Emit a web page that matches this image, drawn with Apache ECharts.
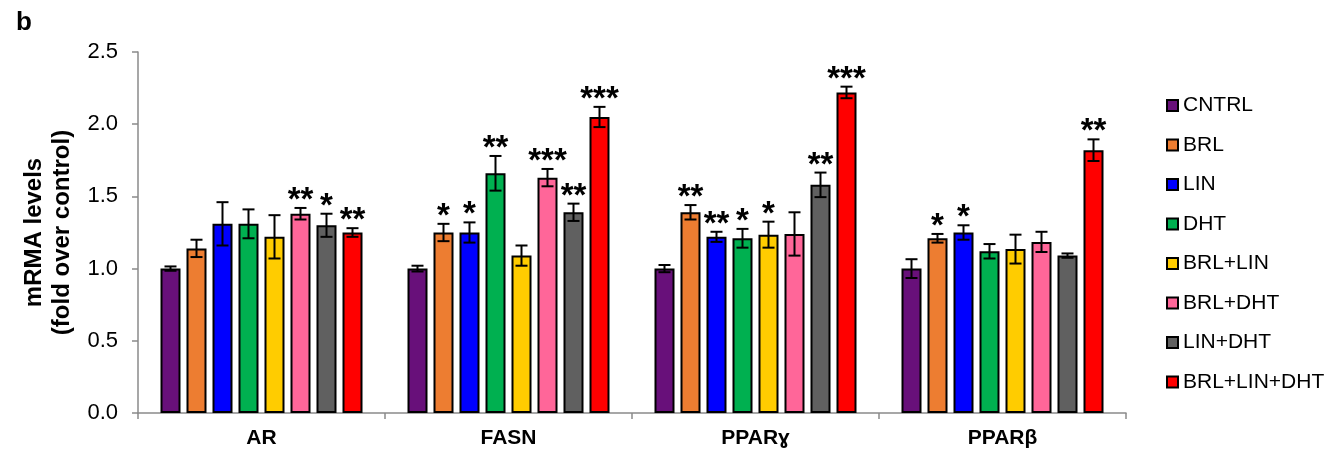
<!DOCTYPE html>
<html>
<head>
<meta charset="utf-8">
<script src="https://cdn.jsdelivr.net/npm/echarts@6/dist/echarts.min.js"></script>
<style>html,body{margin:0;padding:0;background:#fff}#c{width:1327px;height:452px}</style>
</head>
<body>
<div id="c"></div>
<script>
const categories = ['AR', 'FASN', 'PPARɣ', 'PPARβ'];
const treatments = ['CNTRL', 'BRL', 'LIN', 'DHT', 'BRL+LIN', 'BRL+DHT', 'LIN+DHT', 'BRL+LIN+DHT'];
const yTicks = [0, 0.5, 1.0, 1.5, 2.0, 2.5];

const valuesAR    = [1.00, 1.14, 1.31, 1.31, 1.22, 1.38, 1.30, 1.25];
const errorsAR    = [0.015, 0.06, 0.15, 0.10, 0.15, 0.04, 0.08, 0.03];
const starsAR     = ['', '', '', '', '', '**', '*', '**'];

const valuesFASN  = [1.00, 1.25, 1.25, 1.66, 1.09, 1.63, 1.39, 2.05];
const errorsFASN  = [0.02, 0.06, 0.07, 0.12, 0.07, 0.06, 0.06, 0.07];
const starsFASN   = ['', '*', '*', '**', '', '***', '**', '***'];

const valuesPPARg = [1.00, 1.39, 1.22, 1.21, 1.235, 1.24, 1.58, 2.22];
const errorsPPARg = [0.025, 0.05, 0.035, 0.065, 0.09, 0.15, 0.085, 0.04];
const starsPPARg  = ['', '**', '**', '*', '*', '', '**', '***'];

const valuesPPARb = [1.00, 1.21, 1.25, 1.12, 1.135, 1.185, 1.09, 1.82];
const errorsPPARb = [0.065, 0.03, 0.05, 0.05, 0.10, 0.07, 0.015, 0.075];
const starsPPARb  = ['', '*', '*', '', '', '', '', '**'];

const colors = ['#68107a', '#ed7d31', '#0000ff', '#00b050', '#ffcc00', '#ff6699', '#606060', '#ff0000'];

const valueTable = [valuesAR, valuesFASN, valuesPPARg, valuesPPARb];
const errorTable = [errorsAR, errorsFASN, errorsPPARg, errorsPPARb];
const starTable  = [starsAR, starsFASN, starsPPARg, starsPPARb];

const BAR_W = 20, PITCH = 26;
const FONT = '"Liberation Sans", Arial, sans-serif';

const series = [];
treatments.forEach((name, i) => {
  series.push({
    name: name,
    type: 'bar',
    barWidth: BAR_W,
    barGap: ((PITCH - BAR_W) / BAR_W * 100) + '%',
    itemStyle: { color: colors[i], borderColor: '#000', borderWidth: 2 },
    data: valueTable.map(v => v[i]),
    z: 2
  });
});
treatments.forEach((name, i) => {
  series.push({
    name: 'err_' + name,
    type: 'custom',
    z: 5,
    data: categories.map((c, k) => [k, valueTable[k][i], errorTable[k][i]]),
    renderItem: function (params, api) {
      const k = api.value(0), v = api.value(1), e = api.value(2);
      const star = starTable[k][i];
      const off = (i - 3.5) * PITCH;
      const top = api.coord([k, v + e]);
      const bot = api.coord([k, v - e]);
      const x = top[0] + off;
      const cap = 6;
      const st = { stroke: '#000', lineWidth: 2 };
      const children = [
        { type: 'line', shape: { x1: x, y1: top[1], x2: x, y2: bot[1] }, style: st },
        { type: 'line', shape: { x1: x - cap, y1: top[1], x2: x + cap, y2: top[1] }, style: st },
        { type: 'line', shape: { x1: x - cap, y1: bot[1], x2: x + cap, y2: bot[1] }, style: st }
      ];
      if (star) {
        children.push({
          type: 'text',
          style: {
            text: star, x: x, y: top[1] - 7,
            textAlign: 'center', textVerticalAlign: 'middle',
            font: 'bold 33px ' + FONT, fill: '#000'
          }
        });
      }
      return { type: 'group', children: children };
    }
  });
});

const chart = echarts.init(document.getElementById('c'), null, { renderer: 'canvas' });
chart.setOption({
  animation: false,
  backgroundColor: '#fff',
  title: {
    text: 'b', left: 11, top: 5,
    textStyle: { fontFamily: FONT, fontWeight: 'bold', fontSize: 26, color: '#000' }
  },
  legend: {
    data: treatments,
    orient: 'vertical',
    left: 1166, top: 95,
    padding: 0,
    itemWidth: 11, itemHeight: 11, itemGap: 18.5,
    icon: 'rect',
    textStyle: { fontFamily: FONT, fontSize: 21, color: '#000', lineHeight: 21 }
  },
  grid: { left: 138, right: 201, top: 52, bottom: 39, containLabel: false },
  xAxis: {
    type: 'category',
    data: categories,
    axisLine: { lineStyle: { color: '#8a8a8a', width: 1.5 } },
    axisTick: { show: true, length: 6, interval: 0, lineStyle: { color: '#8a8a8a', width: 1.5 } },
    axisLabel: { fontFamily: FONT, fontWeight: 'bold', fontSize: 21, color: '#000', margin: 15 }
  },
  yAxis: {
    type: 'value',
    min: yTicks[0], max: yTicks[yTicks.length - 1], interval: 0.5,
    name: 'mRMA levels\n(fold over control)',
    nameLocation: 'middle',
    nameGap: 57,
    nameTextStyle: { fontFamily: FONT, fontWeight: 'bold', fontSize: 24, lineHeight: 28, color: '#000' },
    axisLine: { show: true, lineStyle: { color: '#8a8a8a', width: 1.5 } },
    axisTick: { show: true, length: 6, lineStyle: { color: '#8a8a8a', width: 1.5 } },
    splitLine: { show: false },
    axisLabel: { fontFamily: FONT, fontSize: 22, color: '#000', margin: 20, formatter: v => v.toFixed(1) }
  },
  series: series
});
</script>
</body>
</html>
